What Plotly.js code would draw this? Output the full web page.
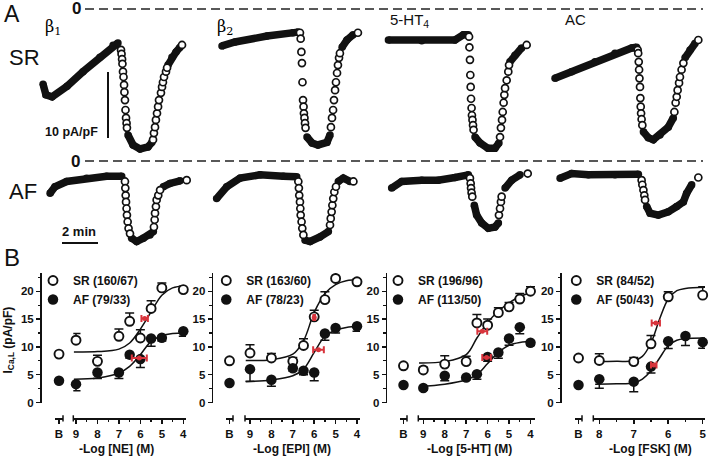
<!DOCTYPE html>
<html><head><meta charset="utf-8">
<script src="https://cdn.plot.ly/plotly-3.0.1.min.js"></script>
<style>html,body{margin:0;padding:0;background:#fff}#chart{width:713px;height:459px}</style>
</head><body><div id="chart"></div>
<script>
// ================= Panel A: representative time courses (t in min, I in pA/pF) =================
// dense segments (drawn as thick trace, null = break) and sparse individual points
const b1SR_lineT=[0.17,0.33,0.67,1.5,2.39,3.33,4.06,4.33,null,4.89,5.17,5.56,6.0,6.22,null,7.11,7.33,7.56,7.78];
const b1SR_lineI=[-11.4,-13.0,-13.3,-11.7,-9.5,-7.3,-5.5,-5.15,null,-19.1,-20.6,-21.2,-20.9,-20.2,null,-8.5,-7.3,-6.5,-5.8];
const b1SR_dotT=[4.5,4.53,4.56,4.58,4.61,4.64,4.67,4.69,4.72,4.75,4.78,4.81,4.83,6.28,6.33,6.39,6.44,6.5,6.56,6.61,6.72,6.78,6.83,6.89,7.0,7.06,7.89];
const b1SR_dotI=[-6.2,-6.8,-7.6,-8.3,-9.5,-10.3,-11.5,-12.6,-13.8,-15.3,-16.5,-17.3,-18.0,-19.8,-18.8,-17.9,-16.8,-15.8,-14.8,-13.8,-12.7,-11.8,-11.1,-10.3,-9.5,-8.9,-5.45];

const b2SR_lineT=[0.39,1.11,2.89,4.33,4.61,null,5.11,5.39,5.72,6.22,6.39,null,7.06,7.33,7.67];
const b2SR_lineI=[-5.6,-5.0,-4.1,-3.6,-3.5,null,-19.4,-20.3,-20.6,-20.2,-19.1,null,-5.8,-4.7,-3.9];
const b2SR_dotT=[4.72,4.76,4.8,4.83,4.86,4.89,4.92,4.94,4.97,5.0,5.03,6.44,6.5,6.56,6.61,6.67,6.72,6.78,6.83,6.89,6.94,7.94];
const b2SR_dotI=[-3.6,-4.5,-6.5,-8.2,-11.1,-13.8,-14.8,-15.8,-16.5,-17.3,-18.0,-17.9,-16.5,-15.3,-13.8,-12.3,-11.1,-9.7,-8.5,-7.4,-6.7,-3.6];

const htSR_lineT=[0.19,2.04,3.89,4.35,4.63,null,5.0,5.28,5.72,6.11,6.33,null,6.94,7.22,7.59];
const htSR_lineI=[-4.7,-4.8,-4.7,-3.9,-3.9,null,-19.4,-20.3,-21.1,-21.1,-20.3,null,-8.0,-7.0,-5.9];
const htSR_dotT=[4.67,4.69,4.72,4.74,4.76,4.78,4.81,4.83,4.86,4.89,4.92,6.39,6.44,6.5,6.54,6.59,6.63,6.67,6.76,6.85,6.89,7.87];
const htSR_dotI=[-4.2,-5.8,-7.7,-10.0,-11.8,-13.6,-15.0,-16.1,-16.8,-17.6,-18.3,-19.4,-18.0,-16.8,-15.6,-14.2,-13.0,-12.0,-10.8,-9.5,-8.5,-5.45];

const acSR_lineT=[0.28,1.2,2.5,3.61,4.54,4.81,null,5.19,5.46,5.74,6.11,6.57,6.85,null,7.5,7.78,8.06];
const acSR_lineI=[-10.5,-9.5,-8.0,-6.7,-5.9,-5.8,null,-18.6,-19.5,-19.8,-19.1,-17.9,-16.5,null,-7.4,-6.2,-5.2];
const acSR_dotT=[4.87,4.9,4.93,4.95,4.97,5.0,5.02,5.04,5.06,5.09,5.13,6.91,6.98,7.04,7.09,7.17,7.22,7.31,7.41,8.24];
const acSR_dotI=[-6.2,-6.7,-8.0,-9.2,-10.5,-11.8,-13.5,-14.8,-15.8,-16.7,-17.6,-15.6,-14.2,-13.3,-12.3,-11.2,-10.3,-9.2,-8.2,-4.7];

const b1AF_lineT=[0.56,0.83,1.48,2.59,3.7,4.54,null,5.09,5.37,5.74,6.11,6.3,null,6.85,7.22,7.78];
const b1AF_lineI=[-4.9,-3.9,-3.1,-2.6,-2.3,-2.3,null,-11.7,-12.2,-11.7,-11.2,-10.7,null,-3.9,-3.4,-3.0];
const b1AF_dotT=[4.72,4.74,4.76,4.78,4.81,4.83,4.87,4.92,5.0,6.33,6.37,6.39,6.44,6.48,6.57,6.67,8.15];
const b1AF_dotI=[-3.1,-4.1,-5.2,-6.2,-7.2,-8.2,-9.2,-10.2,-11.0,-10.0,-8.9,-7.9,-6.9,-5.9,-5.2,-4.4,-2.9];

const b2AF_lineT=[0.09,0.65,1.39,2.5,3.8,4.54,null,5.0,5.28,5.83,6.3,null,6.85,7.13,7.5];
const b2AF_lineI=[-5.7,-3.9,-2.6,-2.1,-2.3,-2.4,null,-12.0,-12.2,-11.5,-10.7,null,-3.1,-2.6,-3.1];
const b2AF_dotT=[4.63,4.66,4.68,4.72,4.74,4.76,4.81,4.85,4.91,6.39,6.43,6.48,6.52,6.57,6.63,6.72,7.69];
const b2AF_dotI=[-3.1,-4.1,-5.2,-6.2,-7.2,-8.2,-9.2,-10.2,-11.2,-9.7,-8.7,-7.7,-6.7,-5.7,-4.7,-3.9,-3.1];

const htAF_lineT=[0.37,0.93,2.04,2.96,3.89,4.63,null,4.96,5.09,5.37,5.74,6.11,6.3,null,6.67,7.04,7.5];
const htAF_lineI=[-4.1,-3.1,-2.9,-2.9,-2.5,-2.1,null,-6.7,-8.2,-9.4,-10.2,-10.0,-9.4,null,-4.1,-2.9,-2.1];
const htAF_dotT=[4.72,4.76,4.78,4.81,4.85,6.33,6.39,6.44,6.48,7.93];
const htAF_dotI=[-2.6,-3.4,-4.1,-4.8,-5.4,-8.2,-7.2,-6.2,-5.4,-1.9];

const acAF_lineT=[0.56,1.2,2.13,3.61,4.91,null,5.37,5.56,6.02,6.57,7.04,7.41,7.59,7.87];
const acAF_lineI=[-2.6,-1.9,-2.1,-2.1,-2.0,null,-6.9,-7.9,-8.2,-7.7,-6.9,-6.2,-4.9,-3.6];
const acAF_dotT=[5.09,5.13,5.19,5.24,5.28,8.24];
const acAF_dotI=[-2.9,-3.6,-4.4,-5.2,-5.9,-2.5];

const colTitles=['β<sub>1</sub>','β<sub>2</sub>','5-HT<sub>4</sub>','AC'];
const rowTitles=['SR','AF'];

// ================= Panel B: concentration-response (x = -log[M], y = pA/pF) =================
const neX=[9,8,7,6.5,6,5.5,5,4];
const neSR=[11.2,7.4,11.9,14.6,11.6,16.9,20.6,20.3];
const neSRerr=[1.2,1.1,1.3,1.5,1.5,1.4,0.9,0.6];
const neAF=[3.3,5.4,5.4,8.6,7.8,11.5,11.65,12.8];
const neAFerr=[1.2,1.1,1.1,0.6,1.5,1.4,0.6,0.9];
const neBasal=[8.7,3.9];
const neFitX=[9.1,8,7,6.5,6,5.5,5,4.5,3.9];
const neFitSR=[9.1,9.15,9.6,10.7,13.2,16.3,19.3,20.6,21.0];
const neFitAF=[4.2,4.4,5.3,6.5,8.6,11.0,12.0,12.4,12.5];
const neEcX=[5.8,6.05], neEcY=[15.1,8.0], neEcErr=[0.15,0.35];
const neLegend=['SR (160/67)','AF (79/33)'];

const epiX=[9,8,7,6.5,6,5.5,5,4];
const epiSR=[8.9,8.0,7.4,10.25,15.4,18.5,22.3,21.7];
const epiSRerr=[1.5,0.8,0.7,1.2,1.2,1.4,1.3,0.5];
const epiAF=[6.0,4.1,6.15,5.7,5.4,12.4,13.4,13.7];
const epiAFerr=[2.2,1.2,0.5,0.7,1.5,1.2,0.9,0.9];
const epiBasal=[7.5,3.5];
const epiFitX=[9.2,8,7,6.5,6,5.5,5,4.5,3.8];
const epiFitSR=[7.55,7.7,8.7,11.1,16.2,19.6,21.2,21.9,22.1];
const epiFitAF=[3.75,4.05,4.8,6.0,9.0,11.9,13.0,13.5,13.7];
const epiEcX=[6.0,5.8], epiEcY=[15.3,9.5], epiEcErr=[0.04,0.25];
const epiLegend=['SR (163/60)','AF (78/23)'];

const htX=[9,8,7,6.5,6,5.5,5,4.5,4];
const htSR=[5.85,6.9,7.35,14.3,13.9,16.15,17.2,18.6,20.0];
const htSRerr=[0.5,1.5,0.95,1.5,1.1,0.9,0.8,1.0,0.8];
const htAF=[2.6,4.8,4.5,5.1,8.2,9.0,11.5,13.55,10.75];
const htAFerr=[0.4,0.9,0.4,0.9,0.8,1.05,1.2,1.2,0.5];
const htBasal=[6.6,3.15];
const htFitX=[9.2,8,7,6.5,6,5.5,5,4.5,3.8];
const htFitSR=[7.1,7.35,8.6,11.6,14.4,16.4,17.9,19.05,19.9];
const htFitAF=[2.9,3.3,4.1,5.0,7.0,9.0,10.3,10.8,11.0];
const htEcX=[6.25,6.05], htEcY=[12.8,8.1], htEcErr=[0.23,0.2];
const htLegend=['SR (196/96)','AF (113/50)'];

const fskSRX=[8,7,6.5,6,5];
const fskSR=[7.55,7.35,10.55,19.0,19.3];
const fskSRerr=[1.2,0.75,1.5,0.9,1.5];
const fskAFX=[8,7,6.5,6,5.5,5];
const fskAF=[4.2,3.75,6.45,11.0,11.95,10.85];
const fskAFerr=[1.65,1.8,1.15,1.3,1.7,1.1];
const fskBasal=[8.0,3.15];
const fskFitX=[8.12,7.5,7,6.75,6.5,6.25,6,5.75,5.5,4.93];
const fskFitSR=[7.35,7.4,7.5,8.3,10.7,15.0,18.6,20.1,20.5,20.7];
const fskFitAF=[3.3,3.35,3.5,4.2,5.7,8.0,10.2,11.2,11.5,11.6];
const fskEcX=[6.36,6.42], fskEcY=[14.3,6.75], fskEcErr=[0.12,0.08];
const fskLegend=['SR (84/52)','AF (50/43)'];

const xTitles=['-Log [NE] (M)','-Log [EPI] (M)','-Log [5-HT] (M)','-Log [FSK] (M)'];

// ================= build =================
const W=713,H=459;
const px=v=>v/W, py=v=>1-v/H;
const FONT='Liberation Sans, Arial, Helvetica, sans-serif';
const SERIF='DejaVu Serif, Liberation Serif, serif';
const INK='#111';
const RED='#d8343c';

const traces=[];
const layout={width:W,height:H,margin:{l:0,r:0,t:0,b:0},paper_bgcolor:'#fff',plot_bgcolor:'rgba(0,0,0,0)',
  showlegend:true,annotations:[],shapes:[]};

// ---- Panel A axes ----
const colStart=[40,215,385,550];
colStart.forEach((s,i)=>{
  layout['xaxis'+(i?i+1:'')]={domain:[px(s),px(s+162)],range:[0,9],visible:false,fixedrange:true};
});
layout.yaxis={domain:[py(155),py(0)],range:[-(155-9)/6.6,9/6.6],visible:false,anchor:'x',fixedrange:true};
layout.yaxis2={domain:[py(250),py(155)],range:[-(250-161)/6.6,(161-155)/6.6],visible:false,anchor:'x',fixedrange:true};

const A=[
 [b1SR_lineT,b1SR_lineI,b1SR_dotT,b1SR_dotI,'x','y'],
 [b2SR_lineT,b2SR_lineI,b2SR_dotT,b2SR_dotI,'x2','y'],
 [htSR_lineT,htSR_lineI,htSR_dotT,htSR_dotI,'x3','y'],
 [acSR_lineT,acSR_lineI,acSR_dotT,acSR_dotI,'x4','y'],
 [b1AF_lineT,b1AF_lineI,b1AF_dotT,b1AF_dotI,'x','y2'],
 [b2AF_lineT,b2AF_lineI,b2AF_dotT,b2AF_dotI,'x2','y2'],
 [htAF_lineT,htAF_lineI,htAF_dotT,htAF_dotI,'x3','y2'],
 [acAF_lineT,acAF_lineI,acAF_dotT,acAF_dotI,'x4','y2'],
];
A.forEach(([lt,li,dt,di,xa,ya])=>{
  traces.push({x:lt,y:li,xaxis:xa,yaxis:ya,mode:'lines+markers',connectgaps:false,cliponaxis:false,
    line:{color:INK,width:7.5},marker:{size:7.5,color:INK},showlegend:false,hoverinfo:'skip'});
  traces.push({x:dt,y:di,xaxis:xa,yaxis:ya,mode:'markers',cliponaxis:false,
    marker:{symbol:'circle',size:7,color:'#fff',line:{color:INK,width:1.7}},showlegend:false,hoverinfo:'skip'});
});

// dashed zero lines
['y','y2'].forEach(yr=>layout.shapes.push({type:'line',xref:'paper',yref:yr,x0:px(85),x1:px(703),y0:0,y1:0,
  line:{color:'#222',width:1.3,dash:'9px,5px'}}));
// scale bars
layout.shapes.push({type:'line',xref:'x',yref:'y',x0:(108-40)/18,x1:(108-40)/18,y0:-(72-9)/6.6,y1:-(72-9)/6.6-10,line:{color:INK,width:2}});
layout.shapes.push({type:'line',xref:'x',yref:'y2',x0:(62-40)/18,x1:(62-40)/18+2,y0:-(243-161)/6.6,y1:-(243-161)/6.6,line:{color:INK,width:2}});

function ann(text,x,y,size,o){
  o=o||{};
  layout.annotations.push(Object.assign({text:o.bold?'<b>'+text+'</b>':text,xref:'paper',yref:'paper',x:px(x),y:py(y),
    xanchor:o.xa||'left',yanchor:'middle',showarrow:false,
    font:{family:o.family||FONT,size:size,color:o.color||INK}},o.extra||{}));
}
ann('A',2,13.5,23);
ann('B',2,257.5,24);
ann(rowTitles[0],7,57.5,22);
ann(rowTitles[1],7,191.5,22);
ann(colTitles[0],43,27,16,{family:SERIF,color:'#000'});
ann(colTitles[1],215,27,16,{family:SERIF,color:'#000'});
ann(colTitles[2],388,21,15);
ann(colTitles[3],563,19,15);
ann('0',76,8.5,17,{xa:'center',bold:true});
ann('0',75,161.5,17,{xa:'center',bold:true});
ann('10 pA/pF',100,131.7,12.5,{xa:'right',bold:true});
ann('2 min',79,231,13,{xa:'center',bold:true});

// ---- Panel B ----
const geo=[
 {main:[73.3,186],range:[9.126,3.874],mini:[55,63],yPos:40,leg:55,title:116},
 {main:[245,360],range:[9.234,3.86],mini:[226,233],yPos:211.7,leg:228.3,title:291.7},
 {main:[418.3,535],range:[9.234,3.79],mini:[400,407],yPos:385.7,leg:400,title:469},
 {main:[593.3,705],range:[8.174,4.933],mini:[575,582],yPos:560,leg:578.3,title:650},
];
const B=[
 {srX:neX,sr:neSR,srE:neSRerr,afX:neX,af:neAF,afE:neAFerr,basal:neBasal,fx:neFitX,fsr:neFitSR,faf:neFitAF,ecX:neEcX,ecY:neEcY,ecE:neEcErr,leg:neLegend},
 {srX:epiX,sr:epiSR,srE:epiSRerr,afX:epiX,af:epiAF,afE:epiAFerr,basal:epiBasal,fx:epiFitX,fsr:epiFitSR,faf:epiFitAF,ecX:epiEcX,ecY:epiEcY,ecE:epiEcErr,leg:epiLegend},
 {srX:htX,sr:htSR,srE:htSRerr,afX:htX,af:htAF,afE:htAFerr,basal:htBasal,fx:htFitX,fsr:htFitSR,faf:htFitAF,ecX:htEcX,ecY:htEcY,ecE:htEcErr,leg:htLegend},
 {srX:fskSRX,sr:fskSR,srE:fskSRerr,afX:fskAFX,af:fskAF,afE:fskAFerr,basal:fskBasal,fx:fskFitX,fsr:fskFitSR,faf:fskFitAF,ecX:fskEcX,ecY:fskEcY,ecE:fskEcErr,leg:fskLegend},
];
const tickFont={family:FONT,size:11.5,color:INK,weight:700};
const AXPOS=py(418.3);
const srMarker={symbol:'circle',size:9,color:'#fff',line:{color:INK,width:1.9}};
const afMarker={symbol:'circle',size:10.5,color:INK,line:{color:INK,width:0}};

B.forEach((d,k)=>{
  const g=geo[k];
  const xm='x'+(5+2*k), xb='x'+(6+2*k), yid='y'+(3+k);
  const legId=k?'legend'+(k+1):'legend';
  layout['xaxis'+(5+2*k)]={domain:[px(g.main[0]),px(g.main[1])],range:g.range,anchor:'free',position:AXPOS,
    showline:true,linecolor:INK,linewidth:1.5,ticks:'outside',ticklen:4.5,tickwidth:1.5,tickcolor:INK,
    tick0:4,dtick:1,minor:{tick0:4,dtick:0.5,ticks:'outside',ticklen:2.5,tickwidth:1.3,tickcolor:INK},
    showgrid:false,zeroline:false,tickfont:tickFont,fixedrange:true};
  layout['xaxis'+(6+2*k)]={domain:[px(g.mini[0]),px(g.mini[1])],type:'category',range:[-0.5,0.5],anchor:'free',position:AXPOS,
    showline:true,linecolor:INK,linewidth:1.5,ticks:'outside',ticklen:4.5,tickwidth:1.5,tickcolor:INK,
    showgrid:false,zeroline:false,tickfont:tickFont,fixedrange:true};
  layout['yaxis'+(3+k)]={domain:[py(402.5),py(272.9)],range:[0,23.3],anchor:'free',position:px(g.yPos),
    showline:true,linecolor:INK,linewidth:1.5,ticks:'outside',ticklen:4,tickwidth:1.5,tickcolor:INK,
    tick0:0,dtick:5,minor:{tick0:0,dtick:2.5,ticks:'outside',ticklen:2.5,tickwidth:1.3,tickcolor:INK},
    showgrid:false,zeroline:false,tickfont:tickFont,fixedrange:true};
  layout[legId]={x:px(g.leg-22),y:py(266),xanchor:'left',yanchor:'top',bgcolor:'rgba(0,0,0,0)',borderwidth:0,
    font:{family:FONT,size:12,color:INK,weight:700},itemsizing:'trace',tracegroupgap:0,traceorder:'normal'};
  // break marks
  layout.shapes.push({type:'line',xref:'paper',yref:'paper',x0:px(g.main[0]),x1:px(g.main[0]),y0:py(415.3),y1:py(421.5),line:{color:INK,width:1.5}});
  layout.shapes.push({type:'line',xref:'paper',yref:'paper',x0:px(g.mini[1]),x1:px(g.mini[1]),y0:py(415.3),y1:py(421.5),line:{color:INK,width:1.5}});
  // fits
  [d.fsr,d.faf].forEach(fy=>traces.push({x:d.fx,y:fy,xaxis:xm,yaxis:yid,mode:'lines',line:{color:INK,width:1.5,shape:'spline',smoothing:1},showlegend:false,hoverinfo:'skip'}));
  // data points
  traces.push({x:d.srX,y:d.sr,xaxis:xm,yaxis:yid,mode:'markers',name:d.leg[0],legend:legId,legendgroup:'sr'+k,cliponaxis:false,
    marker:srMarker,error_y:{type:'data',symmetric:false,array:d.srE,arrayminus:d.srE.map(()=>0),color:INK,thickness:1.5,width:4.5}});
  traces.push({x:d.afX,y:d.af,xaxis:xm,yaxis:yid,mode:'markers',name:d.leg[1],legend:legId,legendgroup:'af'+k,cliponaxis:false,
    marker:afMarker,error_y:{type:'data',symmetric:false,array:d.afE.map(()=>0),arrayminus:d.afE,color:INK,thickness:1.5,width:4.5}});
  // basal
  traces.push({x:['B'],y:[d.basal[0]],xaxis:xb,yaxis:yid,mode:'markers',marker:srMarker,showlegend:false,cliponaxis:false,legendgroup:'sr'+k,legend:legId});
  traces.push({x:['B'],y:[d.basal[1]],xaxis:xb,yaxis:yid,mode:'markers',marker:afMarker,showlegend:false,cliponaxis:false,legendgroup:'af'+k,legend:legId});
  // EC50
  traces.push({x:d.ecX,y:d.ecY,xaxis:xm,yaxis:yid,mode:'markers',showlegend:false,cliponaxis:false,
    marker:{size:5,color:RED},error_x:{type:'data',array:d.ecE,color:RED,thickness:2,width:3.5}});
  ann(xTitles[k],g.title,449,12,{xa:'center',bold:true});
});
ann('I<sub>Ca,L</sub> (pA/pF)',8.5,340,12,{xa:'center',bold:true,extra:{textangle:-90}});

Plotly.newPlot('chart',traces,layout,{staticPlot:true,displayModeBar:false});
</script></body></html>
